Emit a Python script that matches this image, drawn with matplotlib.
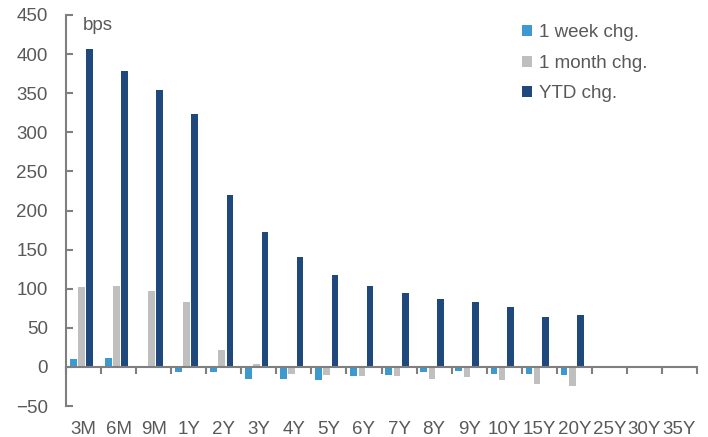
import matplotlib
matplotlib.use("Agg")
import matplotlib.pyplot as plt
import numpy as np

tenors = ["3M", "6M", "9M", "1Y", "2Y", "3Y", "4Y", "5Y", "6Y", "7Y",
          "8Y", "9Y", "10Y", "15Y", "20Y", "25Y", "30Y", "35Y"]
week_chg = [10, 11.5, 1, -7, -7, -15, -15, -17, -12, -10.5,
            -7, -5, -8.5, -8.5, -10.5, 0, 0, 0]
month_chg = [102, 104, 97, 83, 22, 3.5, -8.5, -10, -12, -12,
             -15, -13.5, -17, -22, -24, 0, 0, 0]
ytd_chg = [407, 378, 354, 324, 220, 173, 140, 117, 104, 95,
           87, 83, 76, 64, 66, 0, 0, 0]

plt.rcParams["font.family"] = ["Liberation Sans", "DejaVu Sans"]
TXT = "#595959"
AX = "#7f7f7f"
FS = 13.5

fig = plt.figure(figsize=(7.08, 4.37), dpi=100)
ax = fig.add_axes([0.0932, 0.0709, 0.8913, 0.8948])

x = np.arange(len(tenors))
w = 0.19
off = 0.235
shift = -0.06
ax.bar(x - off + shift, week_chg, w, color="#3C9AD1", label="1 week chg.")
ax.bar(x + shift, month_chg, w, color="#BFBFBF", label="1 month chg.")
ax.bar(x + off + shift, ytd_chg, w, color="#1F497D", label="YTD chg.")

ax.set_xlim(-0.5, len(tenors) - 0.5)
ax.set_ylim(-50, 450)
ax.set_yticks(np.arange(-50, 451, 50))

for s in ["top", "right"]:
    ax.spines[s].set_visible(False)
ax.spines["left"].set_color(AX)
ax.spines["left"].set_linewidth(1.5)
ax.spines["bottom"].set_position(("data", 0))
ax.spines["bottom"].set_color(AX)
ax.spines["bottom"].set_linewidth(1.5)

ax.set_xticks(x)
ax.set_xticklabels(tenors)
ax.set_xticks(np.arange(-0.5, len(tenors), 1), minor=True)
ax.tick_params(axis="x", which="major", length=0, pad=39, labelsize=FS, colors=TXT)
ax.tick_params(axis="x", which="minor", length=5, width=1.5, direction="out", color=AX)
ax.tick_params(axis="y", length=5, width=1.5, direction="in", color=AX,
               labelsize=FS, labelcolor=TXT, pad=13)

ax.text(0.026, 0.996, "bps", transform=ax.transAxes, fontsize=FS, color=TXT,
        va="top", ha="left")

leg = ax.legend(loc="upper left", bbox_to_anchor=(0.722, 0.976), frameon=False,
                borderaxespad=0, borderpad=0,
                fontsize=FS, handlelength=0.55, handleheight=0.55, handletextpad=0.4,
                labelspacing=0.72)
for t in leg.get_texts():
    t.set_color(TXT)

fig.savefig("out.png", dpi=100)
